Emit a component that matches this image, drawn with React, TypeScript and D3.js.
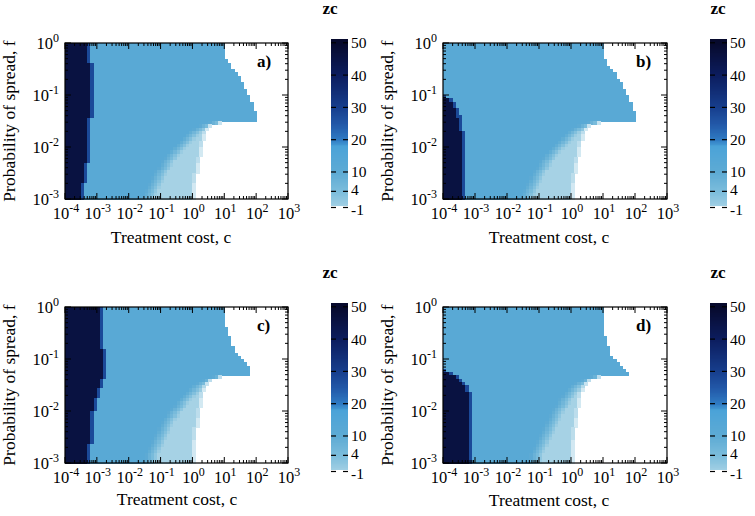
import React from "react";
import * as d3 from "d3";

// ---------------- data ----------------
const X_DECADES = [-4, -3, -2, -1, 0, 1, 2, 3];
const Y_DECADES = [-3, -2, -1, 0];
const CB_TICKS = [-1, 4, 10, 20, 30, 40, 50];
const PANEL_LABELS = ["a)", "b)", "c)", "d)"];

// value levels of the zc field
const Z_DARK = 46;
const Z_EDGE = 28;
const Z_PLATEAU = 12;
const Z_LOW = -1;

// colour palette of the colour box
const CB_STOPS = [-1, 4, 10, 18, 20, 25, 30, 40, 50];
const CB_COLORS = ["#a6d2e5", "#7cbddc", "#5eabd4", "#4ba3d8", "#2f7cc4", "#2258a8", "#173f8e", "#0c1d5f", "#070a2d"];

// Per-row boundaries (log10 c), row 0 = top (f = 1) ... row 47 = bottom (f = 1e-3), 1/16 decade each.
// DARK: right edge of the zc=50 region (-9 = none); LIGHT: start of the low-zc region (9 = none);
// WHITE: right edge of the coloured (defined) region.
const DARK_A = [-3.25, -3.25, -3.25, -3.25, -3.25, -3.25, -3.2, -3.2, -3.2, -3.2, -3.2, -3.2, -3.2, -3.2, -3.2, -3.2, -3.2, -3.2, -3.2, -3.2, -3.2, -3.2, -3.2, -3.25, -3.25, -3.25, -3.25, -3.25, -3.25, -3.25, -3.25, -3.3, -3.3, -3.3, -3.3, -3.3, -3.3, -3.35, -3.35, -3.35, -3.35, -3.35, -3.35, -3.45, -3.45, -3.45, -3.45, -3.45];
const LIGHT_A = [9, 9, 9, 9, 9, 9, 9, 9, 9, 9, 9, 9, 9, 9, 9, 9, 9, 9, 9, 9, 9, 9, 9, 9, 0.5, 0.2, 0.0, -0.15, -0.25, -0.35, -0.45, -0.55, -0.65, -0.75, -0.85, -0.9, -1.0, -1.05, -1.1, -1.2, -1.25, -1.3, -1.35, -1.4, -1.45, -1.5, -1.55, -1.6];
const WHITE_A = [1.0, 1.0, 1.0, 1.0, 1.0, 1.1, 1.2, 1.2, 1.3, 1.4, 1.5, 1.5, 1.6, 1.6, 1.7, 1.7, 1.8, 1.8, 1.9, 1.9, 1.9, 2.0, 2.0, 2.0, 0.9, 0.6, 0.5, 0.45, 0.4, 0.4, 0.35, 0.35, 0.3, 0.3, 0.3, 0.25, 0.25, 0.2, 0.2, 0.2, 0.15, 0.15, 0.15, 0.1, 0.1, 0.1, 0.1, 0.1];

const DARK_B = [-9, -9, -9, -9, -9, -9, -9, -9, -9, -9, -9, -9, -9, -9, -9, -9, -4.0, -3.8, -3.7, -3.65, -3.6, -3.6, -3.55, -3.5, -3.5, -3.45, -3.45, -3.4, -3.35, -3.35, -3.35, -3.35, -3.35, -3.35, -3.35, -3.35, -3.35, -3.35, -3.35, -3.35, -3.35, -3.35, -3.35, -3.35, -3.35, -3.35, -3.35, -3.35];
const LIGHT_B = [9, 9, 9, 9, 9, 9, 9, 9, 9, 9, 9, 9, 9, 9, 9, 9, 9, 9, 9, 9, 9, 9, 9, 9, 0.5, 0.2, 0.0, -0.15, -0.25, -0.35, -0.45, -0.55, -0.65, -0.75, -0.85, -0.9, -1.0, -1.05, -1.1, -1.2, -1.25, -1.3, -1.35, -1.4, -1.45, -1.5, -1.55, -1.6];
const WHITE_B = [1.0, 1.0, 1.0, 1.0, 1.0, 1.1, 1.1, 1.2, 1.3, 1.4, 1.4, 1.5, 1.6, 1.6, 1.7, 1.7, 1.8, 1.8, 1.9, 1.9, 1.9, 2.0, 2.0, 2.0, 0.9, 0.6, 0.5, 0.45, 0.4, 0.4, 0.35, 0.35, 0.3, 0.3, 0.3, 0.25, 0.25, 0.2, 0.2, 0.2, 0.15, 0.15, 0.15, 0.1, 0.1, 0.1, 0.1, 0.1];

const DARK_C = [-2.9, -2.9, -2.9, -2.9, -2.9, -2.9, -2.85, -2.85, -2.85, -2.85, -2.85, -2.85, -2.85, -2.75, -2.75, -2.75, -2.75, -2.75, -2.75, -2.8, -2.8, -2.8, -2.9, -2.9, -2.9, -3.0, -3.0, -3.0, -3.1, -3.1, -3.1, -3.1, -3.15, -3.15, -3.15, -3.15, -3.15, -3.2, -3.2, -3.2, -3.2, -3.2, -3.3, -3.3, -3.3, -3.3, -3.3, -3.3];
const LIGHT_C = [9, 9, 9, 9, 9, 9, 9, 9, 9, 9, 9, 9, 9, 9, 9, 9, 9, 9, 9, 9, 9, 0.6, 0.3, 0.1, -0.05, -0.15, -0.25, -0.35, -0.45, -0.55, -0.6, -0.7, -0.8, -0.85, -0.95, -1.0, -1.05, -1.1, -1.15, -1.2, -1.25, -1.3, -1.35, -1.4, -1.45, -1.5, -1.5, -1.55];
const WHITE_C = [1.0, 1.0, 1.0, 1.0, 1.0, 1.0, 1.1, 1.1, 1.1, 1.2, 1.2, 1.2, 1.3, 1.3, 1.4, 1.5, 1.6, 1.7, 1.8, 1.8, 1.8, 0.9, 0.6, 0.5, 0.45, 0.4, 0.35, 0.35, 0.3, 0.3, 0.3, 0.25, 0.25, 0.25, 0.2, 0.2, 0.2, 0.15, 0.15, 0.15, 0.15, 0.1, 0.1, 0.1, 0.1, 0.1, 0.1, 0.1];

const DARK_D = [-9, -9, -9, -9, -9, -9, -9, -9, -9, -9, -9, -9, -9, -9, -9, -9, -9, -9, -9, -4.0, -3.8, -3.6, -3.5, -3.4, -3.3, -3.25, -3.2, -3.15, -3.15, -3.15, -3.15, -3.15, -3.15, -3.15, -3.15, -3.15, -3.15, -3.15, -3.15, -3.15, -3.15, -3.15, -3.15, -3.15, -3.15, -3.15, -3.15, -3.15];
const LIGHT_D = [9, 9, 9, 9, 9, 9, 9, 9, 9, 9, 9, 9, 9, 9, 9, 9, 9, 9, 9, 9, 9, 0.6, 0.3, 0.1, -0.05, -0.15, -0.25, -0.3, -0.4, -0.45, -0.5, -0.6, -0.65, -0.7, -0.75, -0.8, -0.85, -0.9, -0.95, -1.0, -1.05, -1.1, -1.15, -1.2, -1.25, -1.3, -1.3, -1.35];
const WHITE_D = [1.0, 1.0, 1.0, 1.0, 1.0, 1.0, 1.0, 1.0, 1.0, 1.1, 1.1, 1.1, 1.2, 1.2, 1.2, 1.3, 1.4, 1.5, 1.6, 1.7, 1.8, 0.9, 0.6, 0.5, 0.45, 0.4, 0.35, 0.35, 0.3, 0.3, 0.3, 0.25, 0.25, 0.25, 0.2, 0.2, 0.2, 0.15, 0.15, 0.15, 0.15, 0.1, 0.1, 0.1, 0.1, 0.1, 0.1, 0.1];

const PANEL_DATA = [
  { dark: DARK_A, light: LIGHT_A, white: WHITE_A },
  { dark: DARK_B, light: LIGHT_B, white: WHITE_B },
  { dark: DARK_C, light: LIGHT_C, white: WHITE_C },
  { dark: DARK_D, light: LIGHT_D, white: WHITE_D },
];

// ---------------- layout ----------------
const FONT = "'Liberation Serif', 'Times New Roman', serif";
const NX = 70; // columns, 0.1 decade each
const NY = 48; // rows, 1/16 decade each

const LAYOUT = [
  { x0: 65, x1: 288, y0: 43, y1: 199, cbx: 331, titleX: 171, titleDy: 44, zcX: 330 },
  { x0: 443, x1: 667, y0: 43, y1: 199, cbx: 710, titleX: 549, titleDy: 44, zcX: 718 },
  { x0: 65, x1: 288, y0: 307, y1: 463, cbx: 331, titleX: 177, titleDy: 42, zcX: 330 },
  { x0: 443, x1: 667, y0: 307, y1: 463, cbx: 710, titleX: 549, titleDy: 43, zcX: 718 },
];

const color = d3.scaleLinear<string>().domain(CB_STOPS).range(CB_COLORS).interpolate(d3.interpolateRgb).clamp(true);

function Panel({ idx }: { idx: number }) {
  const L = LAYOUT[idx];
  const D = PANEL_DATA[idx];
  const x = d3.scaleLog().domain([1e-4, 1e3]).range([L.x0, L.x1]);
  const y = d3.scaleLog().domain([1e-3, 1]).range([L.y1, L.y0]);
  const cb = d3.scaleLinear().domain([-1, 50]).range([L.y0 + 164.5, L.y0 - 0.2]);

  const cells: React.ReactNode[] = [];
  for (let r = 0; r < NY; r++) {
    const yt = y(Math.pow(10, -r / 16));
    const yb = y(Math.pow(10, -(r + 1) / 16));
    for (let j = 0; j < NX; j++) {
      const lc = -4 + (j + 0.5) * 0.1;
      if (lc >= D.white[r]) continue;
      let v: number;
      if (lc < D.dark[r]) v = Z_DARK;
      else if (lc < D.dark[r] + 0.1) v = Z_EDGE;
      else if (lc < D.light[r]) v = Z_PLATEAU;
      else v = Z_PLATEAU + (Z_LOW - Z_PLATEAU) * Math.min(1, (lc - D.light[r]) / 0.45);
      let fill = color(v);
      if (D.light[r] < 5) {
        const dd = D.white[r] - lc;
        if (dd < 0.15) fill = d3.interpolateRgb(fill, "#ffffff")(0.75 - dd / 0.2);
      }
      const xl = x(Math.pow(10, -4 + j * 0.1));
      const xr = x(Math.pow(10, -4 + (j + 1) * 0.1));
      cells.push(
        <rect key={`${r}-${j}`} x={xl} y={yt} width={xr - xl + 0.7} height={yb - yt + 0.7} fill={fill} />
      );
    }
  }

  const ticks: React.ReactNode[] = [];
  X_DECADES.forEach((d) => {
    const px = x(Math.pow(10, d));
    ticks.push(<line key={`xt${d}`} x1={px} x2={px} y1={L.y0} y2={L.y0 + 6} />);
    ticks.push(<line key={`xb${d}`} x1={px} x2={px} y1={L.y1} y2={L.y1 - 6} />);
    if (d < 3) {
      for (let k = 2; k <= 9; k++) {
        const mx = x(k * Math.pow(10, d));
        ticks.push(<line key={`xmt${d}-${k}`} x1={mx} x2={mx} y1={L.y0} y2={L.y0 + 3} />);
        ticks.push(<line key={`xmb${d}-${k}`} x1={mx} x2={mx} y1={L.y1} y2={L.y1 - 3} />);
      }
    }
  });
  Y_DECADES.forEach((d) => {
    const py = y(Math.pow(10, d));
    ticks.push(<line key={`yl${d}`} x1={L.x0} x2={L.x0 + 6} y1={py} y2={py} />);
    ticks.push(<line key={`yr${d}`} x1={L.x1} x2={L.x1 - 6} y1={py} y2={py} />);
    if (d < 0) {
      for (let k = 2; k <= 9; k++) {
        const my = y(k * Math.pow(10, d));
        ticks.push(<line key={`yml${d}-${k}`} x1={L.x0} x2={L.x0 + 3} y1={my} y2={my} />);
        ticks.push(<line key={`ymr${d}-${k}`} x1={L.x1} x2={L.x1 - 3} y1={my} y2={my} />);
      }
    }
  });

  // colour box
  const cbW = 17;
  const bar: React.ReactNode[] = [];
  const step = 0.25;
  for (let v = -0.3; v < 51; v += step) {
    const yt = cb(v + step);
    const yb = cb(v);
    bar.push(<rect key={`cb${v.toFixed(2)}`} x={L.cbx} y={yt} width={cbW} height={yb - yt + 0.8} fill={color(v + step / 2)} />);
  }
  const cbLabelShift = (t: number) => (t === -1 ? 2 : t === 4 ? -1.5 : 0);

  return (
    <g fontFamily={FONT}>
      <g shapeRendering="crispEdges">{cells}</g>
      <rect x={L.x0} y={L.y0} width={L.x1 - L.x0} height={L.y1 - L.y0} fill="none" stroke="#000" strokeWidth={1.2} />
      <g stroke="#000" strokeWidth={1}>{ticks}</g>
      {X_DECADES.map((d) => (
        <text key={`xl${d}`} x={x(Math.pow(10, d)) + 1} y={L.y1 + 20} textAnchor="middle" fontSize={16.5} fill="#000">
          10<tspan fontSize={12} dy={-7}>{d}</tspan>
        </text>
      ))}
      {Y_DECADES.map((d) => (
        <text key={`yl${d}`} x={L.x0 - 6} y={y(Math.pow(10, d)) + 6} textAnchor="end" fontSize={16.5} fill="#000">
          10<tspan fontSize={12} dy={-7}>{d}</tspan>
        </text>
      ))}
      <text x={L.titleX} y={L.y1 + L.titleDy} textAnchor="middle" fontSize={17.5} fill="#000">Treatment cost, c</text>
      <text transform={`translate(${L.x0 - 50},${(L.y0 + L.y1) / 2}) rotate(-90)`} textAnchor="middle" fontSize={17.5} fill="#000">
        Probability of spread, f
      </text>
      <text x={L.x1 - 31} y={L.y0 + 24} fontSize={17} fontWeight="bold" fill="#000">{PANEL_LABELS[idx]}</text>
      <g shapeRendering="crispEdges">{bar}</g>
      <g stroke="#000" strokeWidth={1.2}>
        {CB_TICKS.map((t) => (
          <g key={`cbt${t}`}>
            <line x1={L.cbx} x2={L.cbx + 5} y1={cb(t)} y2={cb(t)} />
            <line x1={L.cbx + cbW - 5} x2={L.cbx + cbW} y1={cb(t)} y2={cb(t)} />
          </g>
        ))}
      </g>
      {CB_TICKS.map((t) => (
        <text key={`cbl${t}`} x={L.cbx + cbW + 3} y={cb(t) + 5.5 + cbLabelShift(t)} fontSize={15.5} fill="#000">{t}</text>
      ))}
      <text x={L.zcX} y={L.y0 - 29} textAnchor="middle" fontSize={17} fontWeight="bold" fill="#000">zc</text>
    </g>
  );
}

export default function App() {
  return (
    <svg width={755} height={516} style={{ position: "absolute", left: 0, top: 0, background: "#fff" }}>
      <rect x={0} y={0} width={755} height={516} fill="#fff" />
      {[0, 1, 2, 3].map((i) => (
        <Panel key={i} idx={i} />
      ))}
    </svg>
  );
}
